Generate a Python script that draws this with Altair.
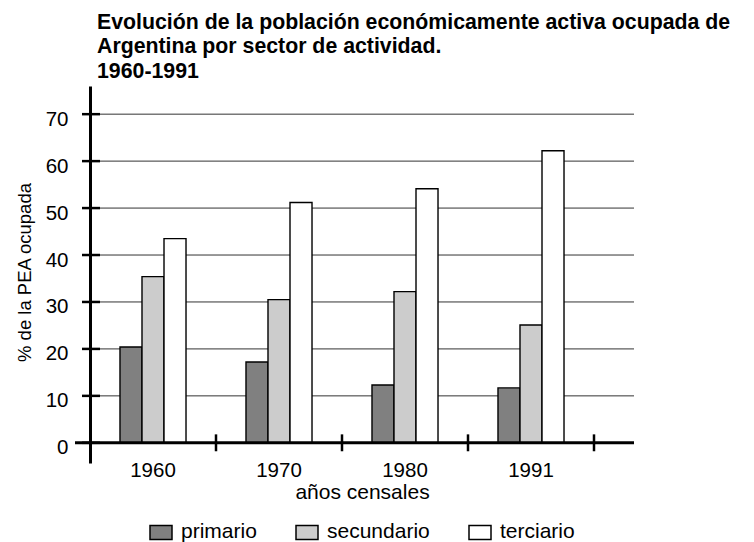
import altair as alt
import pandas as pd

years = ["1960", "1970", "1980", "1991"]
sectors = ["primario", "secundario", "terciario"]
primario = [20.4, 17.2, 12.3, 11.7]
secundario = [35.4, 30.5, 32.2, 25.1]
terciario = [43.5, 51.2, 54.1, 62.2]
y_ticks = [0, 10, 20, 30, 40, 50, 60, 70]
x_bounds = [1, 2, 3, 4]
fills = ["#808080", "#cccccc", "#ffffff"]

rows = []
for i, y in enumerate(years):
    for s, vals in zip(sectors, [primario, secundario, terciario]):
        rows.append({"year": y, "sector": s, "value": vals[i]})
df = pd.DataFrame(rows)

FONT = "Liberation Sans"
yscale = alt.Scale(domain=[-4.3, 76.0], nice=False, zero=False)
yaxis = alt.Axis(values=y_ticks, grid=False,
                 ticks=False, tickSize=0, domain=True, domainColor="black",
                 domainWidth=3, labelFontSize=20.5, labelPadding=22,
                 labelColor="black", labelFont=FONT, labelBaseline="middle",
                 labelOffset=5,
                 title="% de la PEA ocupada", titleFontSize=18.5,
                 titleFontWeight="normal", titleFont=FONT, titleColor="black",
                 titleX=-60, titleY=186, titleBaseline="alphabetic",
                 titleAlign="center", titleAngle=270)

tick_df = pd.DataFrame({"v": y_ticks})
grid = alt.Chart(tick_df).mark_rule(color="#333333", strokeWidth=1).encode(
    y=alt.Y("v:Q", scale=yscale, axis=yaxis),
    x=alt.value(0), x2=alt.value(544),
)

bars = alt.Chart(df).mark_bar(stroke="black", strokeWidth=1.4).encode(
    x=alt.X("year:N", sort=years,
            scale=alt.Scale(range=[0, 504], paddingInner=0.476, paddingOuter=0.238),
            axis=alt.Axis(domain=False, ticks=False, tickSize=0, labelFontSize=20.5,
                          labelBaseline="alphabetic", labelPadding=13, labelAngle=0,
                          labelColor="black", labelFont=FONT,
                          title="años censales", titleFontSize=21, titleFontWeight="normal",
                          titleFont=FONT, titleColor="black",
                          titleBaseline="alphabetic", titleY=35, titleX=272)),
    xOffset=alt.XOffset("sector:N", sort=sectors, scale=alt.Scale(paddingInner=0, paddingOuter=0)),
    y=alt.Y("value:Q", scale=yscale, axis=yaxis),
    color=alt.Color("sector:N", sort=sectors,
                    scale=alt.Scale(domain=sectors, range=fills),
                    legend=alt.Legend(title=None, orient="none", direction="horizontal",
                                      legendX=59, legendY=434,
                                      symbolType="M-1,-0.64H1V0.64H-1Z", symbolSize=484,
                                      symbolStrokeColor="black", symbolStrokeWidth=1.5,
                                      symbolOpacity=1,
                                      labelFontSize=21, labelFont=FONT, labelColor="black",
                                      labelOffset=8, columnPadding=36)),
)

yticks = alt.Chart(tick_df).mark_rule(color="black", strokeWidth=2.5).encode(
    y=alt.Y("v:Q", scale=yscale, axis=yaxis),
    x=alt.value(-8), x2=alt.value(10),
)

xaxis_line = alt.Chart(pd.DataFrame({"v": [0]})).mark_rule(color="black", strokeWidth=3).encode(
    y=alt.Y("v:Q", scale=yscale, axis=yaxis),
    x=alt.value(-15), x2=alt.value(544),
)

bound_df = pd.DataFrame({"b": x_bounds})
xticks = alt.Chart(bound_df).mark_rule(color="black", strokeWidth=2.5).encode(
    x=alt.X("b:Q", scale=alt.Scale(domain=[0, 4], range=[0, 504]), axis=None),
    y=alt.datum(1.8, scale=yscale),
    y2=alt.datum(-1.8),
)

chart = alt.layer(grid, bars, yticks, xaxis_line, xticks).resolve_scale(
    x="independent"
).properties(
    width=544, height=377,
    padding={"left": 82, "top": 78, "right": 112, "bottom": 80},
    autosize=alt.AutoSizeParams(type="none"),
    background="white",
    title=alt.Title(
        ["Evolución de la población económicamente activa ocupada de",
         "Argentina por sector de actividad.", "1960-1991"],
        anchor="start", frame="group", dx=7, fontSize=21.3, fontWeight="bold",
        lineHeight=24.5, offset=4, font=FONT, color="black"),
).configure_view(strokeWidth=0)

chart.save("out.html", embed_options={"renderer": "svg", "actions": False})
